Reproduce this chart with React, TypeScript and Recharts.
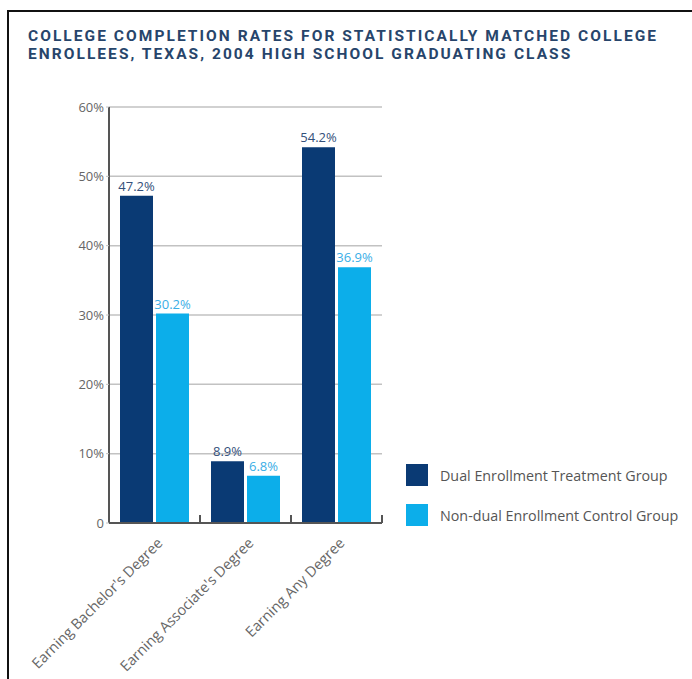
import React from "react";
import { BarChart, Bar, XAxis, YAxis, CartesianGrid, LabelList, Legend } from "recharts";

const categories = ["Earning Bachelor's Degree", "Earning Associate's Degree", "Earning Any Degree"];
const dualValues = [47.2, 8.9, 54.2];
const nonDualValues = [30.2, 6.8, 36.9];
const yTicks = [0, 10, 20, 30, 40, 50, 60];
const seriesNames = ["Dual Enrollment Treatment Group", "Non-dual Enrollment Control Group"];
const titleLines = [
  "COLLEGE COMPLETION RATES FOR STATISTICALLY MATCHED COLLEGE",
  "ENROLLEES, TEXAS, 2004 HIGH SCHOOL GRADUATING CLASS",
];

const DARK = "#0a3a74";
const LIGHT = "#0caeea";
const FONT = "'Open Sans', sans-serif";

const W = 692;
const H = 679;
const PLOT_LEFT = 109;
const PLOT_RIGHT = 382;
const PLOT_W = PLOT_RIGHT - PLOT_LEFT;

const data = categories.map((name, i) => ({
  name,
  dual: dualValues[i],
  nonDual: nonDualValues[i],
}));

// category label, plus the little upward tick at the right edge of each band
const CategoryTick = (props: any) => {
  const { x, y, payload } = props;
  const half = PLOT_W / categories.length / 2;
  const tx = x + 9;
  const ty = y + 21;
  return (
    <g>
      <line x1={x + half} x2={x + half} y1={y} y2={y - 8} stroke="#555" strokeWidth={2} />
      <text
        x={tx}
        y={ty}
        textAnchor="end"
        fontSize={14.5}
        fontFamily={FONT}
        fill="#666"
        transform={`rotate(-45, ${tx}, ${ty})`}
      >
        {payload.value}
      </text>
    </g>
  );
};

const LegendContent = (props: any) => {
  const { payload } = props;
  return (
    <div style={{ fontFamily: FONT, fontSize: 14.3, color: "#555" }}>
      {(payload || []).map((entry: any) => (
        <div key={entry.value} style={{ display: "flex", alignItems: "center", height: 22, marginBottom: 18 }}>
          <span style={{ width: 22, height: 22, background: entry.color, marginRight: 12, display: "inline-block" }} />
          <span>{entry.value}</span>
        </div>
      ))}
    </div>
  );
};

export default function App() {
  return (
    <div style={{ position: "absolute", left: 0, top: 0, width: W, height: H, background: "#fff", overflow: "hidden" }}>
      <div style={{ position: "absolute", left: 7, top: 10, width: W, height: 2, background: "#111" }} />
      <div style={{ position: "absolute", left: 7, top: 10, width: 2, height: H, background: "#111" }} />
      <div
        style={{
          position: "absolute",
          left: 28,
          top: 27,
          fontFamily: "Roboto, sans-serif",
          fontWeight: 700,
          fontSize: 15.5,
          letterSpacing: 2.05,
          lineHeight: "18px",
          color: "#27456b",
          whiteSpace: "nowrap",
        }}
      >
        {titleLines.map((t) => (
          <div key={t}>{t}</div>
        ))}
      </div>
      <div style={{ position: "absolute", left: 0, top: 0 }}>
        <BarChart
          width={W}
          height={H}
          data={data}
          margin={{ top: 107, left: 59, right: W - PLOT_RIGHT, bottom: 16 }}
          barGap={3}
        >
          <CartesianGrid vertical={false} stroke="#c2c2c2" strokeWidth={1.5} />
          <XAxis
            dataKey="name"
            interval={0}
            height={140}
            tickLine={false}
            tickSize={0}
            tickMargin={0}
            axisLine={{ stroke: "#555", strokeWidth: 2 }}
            tick={<CategoryTick />}
          />
          <YAxis
            width={50}
            domain={[0, 60]}
            ticks={yTicks}
            interval={0}
            tickFormatter={(v: number) => (v === 0 ? "0" : `${v}%`)}
            axisLine={{ stroke: "#555", strokeWidth: 2 }}
            tickLine={{ stroke: "#c2c2c2" }}
            tickSize={3}
            tickMargin={2}
            tick={{ fontSize: 13, fill: "#666", fontFamily: FONT }}
          />
          <Legend
            layout="vertical"
            align="center"
            verticalAlign="middle"
            content={<LegendContent />}
            wrapperStyle={{ left: 406, top: 464, width: 286 }}
          />
          <Bar dataKey="dual" name={seriesNames[0]} fill={DARK} barSize={33} isAnimationActive={false}>
            <LabelList
              dataKey="dual"
              position="top"
              formatter={(v: any) => `${Number(v).toFixed(1)}%`}
              style={{ fontSize: 13, fill: "#34507a", fontFamily: FONT }}
            />
          </Bar>
          <Bar dataKey="nonDual" name={seriesNames[1]} fill={LIGHT} barSize={33} isAnimationActive={false}>
            <LabelList
              dataKey="nonDual"
              position="top"
              formatter={(v: any) => `${Number(v).toFixed(1)}%`}
              style={{ fontSize: 13, fill: "#3aaee6", fontFamily: FONT }}
            />
          </Bar>
        </BarChart>
      </div>
    </div>
  );
}
